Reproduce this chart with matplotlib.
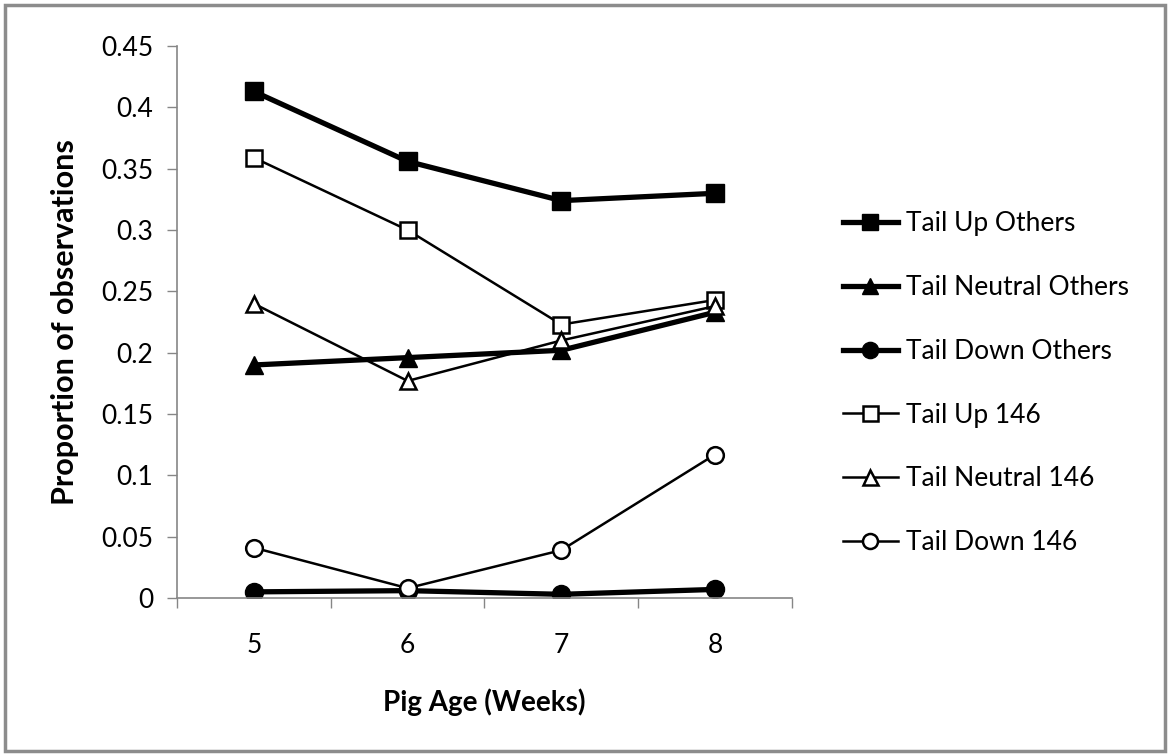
import numpy as np
import matplotlib.pyplot as plt
from matplotlib.patches import Rectangle

plt.rcParams['font.family'] = ['Lato', 'DejaVu Sans']

# Data
weeks = ['5', '6', '7', '8']
tail_up_others = [0.413, 0.356, 0.324, 0.330]
tail_neutral_others = [0.190, 0.196, 0.202, 0.233]
tail_down_others = [0.005, 0.006, 0.003, 0.007]
tail_up_146 = [0.359, 0.300, 0.223, 0.243]
tail_neutral_146 = [0.240, 0.177, 0.210, 0.238]
tail_down_146 = [0.041, 0.008, 0.039, 0.117]

fig = plt.figure(figsize=(11.7, 7.56), dpi=100)
ax = fig.add_axes([0.1513, 0.209, 0.5256, 0.730])

x = np.arange(len(weeks))

# thick filled series ("Others")
ax.plot(x, tail_up_others, color='black', lw=3.8, marker='s', ms=13,
        mfc='black', mec='black', label='Tail Up Others')
ax.plot(x, tail_neutral_others, color='black', lw=3.8, marker='^', ms=13,
        mfc='black', mec='black', label='Tail Neutral Others')
ax.plot(x, tail_down_others, color='black', lw=3.8, marker='o', ms=13,
        mfc='black', mec='black', label='Tail Down Others')

# thin open series ("146")
ax.plot(x, tail_up_146, color='black', lw=1.8, marker='s', ms=12,
        mfc='white', mec='black', mew=1.8, label='Tail Up 146')
ax.plot(x, tail_neutral_146, color='black', lw=1.8, marker='^', ms=12,
        mfc='white', mec='black', mew=1.8, label='Tail Neutral 146')
ax.plot(x, tail_down_146, color='black', lw=1.8, marker='o', ms=12,
        mfc='white', mec='black', mew=1.8, label='Tail Down 146')

ax.set_xlim(-0.5, 3.5)
ax.set_ylim(0, 0.45)

ax.set_yticks(np.arange(0, 0.451, 0.05))
ax.set_yticklabels(['0', '0.05', '0.1', '0.15', '0.2', '0.25', '0.3',
                    '0.35', '0.4', '0.45'])
ax.set_xticks(x)
ax.set_xticklabels(weeks)
ax.set_xticks(np.arange(-0.5, 3.6, 1), minor=True)
ax.tick_params(axis='x', which='major', length=0, pad=25, labelsize=19)
ax.tick_params(axis='x', which='minor', length=7, width=1, color='#868686')
ax.tick_params(axis='y', length=7, width=1, color='#868686', pad=10,
               labelsize=19)

for s in ['top', 'right']:
    ax.spines[s].set_visible(False)
for s in ['left', 'bottom']:
    ax.spines[s].set_color('#868686')
    ax.spines[s].set_linewidth(1.2)

ax.set_xlabel('Pig Age (Weeks)', fontsize=20, fontweight='bold', labelpad=22)
ax.set_ylabel('Proportion of observations', fontsize=22, fontweight='bold',
              labelpad=16)

leg = ax.legend(loc='center left', bbox_to_anchor=(0.7, 0.493),
                bbox_transform=fig.transFigure, frameon=False, fontsize=19,
                handlelength=2.1, handletextpad=0.3, labelspacing=1.47,
                markerscale=0.9)

# grey outer frame
fig.patches.append(Rectangle((0.0045, 0.006), 0.991, 0.988,
                             transform=fig.transFigure, fill=False,
                             edgecolor='#8c8c8c', lw=2.5))

fig.savefig('out.png', dpi=100)
